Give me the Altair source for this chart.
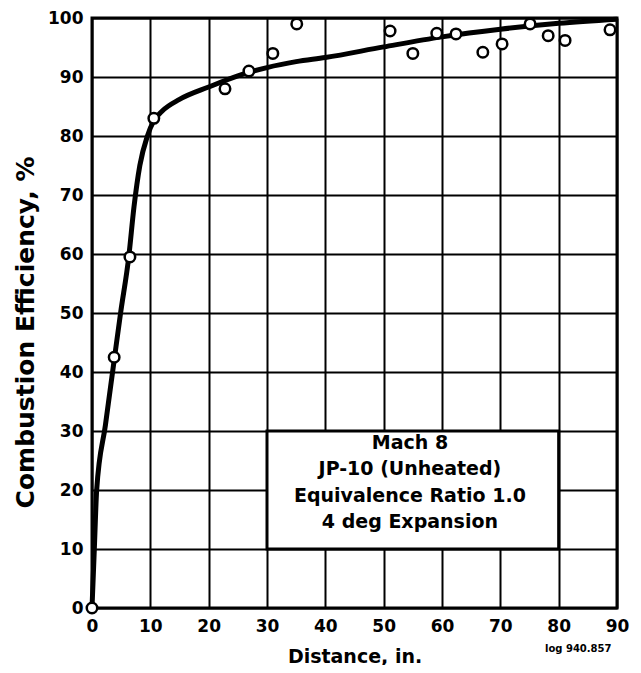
import altair as alt
import pandas as pd

# measured points
pt_x = [0, 3.8, 6.5, 10.6, 22.8, 26.9, 31.0, 35.1, 51.1, 55.0, 59.1, 62.4, 67.0, 70.3, 75.1, 78.2, 81.1, 88.8]
pt_y = [0, 42.5, 59.5, 83.0, 88.0, 91.0, 94.0, 99.0, 97.8, 94.0, 97.4, 97.3, 94.2, 95.6, 99.0, 97.0, 96.2, 98.0]

# fitted curve
ln_x = [0, 0.4, 0.8, 2.3, 3.8, 4.9, 6.3, 7.2, 8.2, 9.5, 10.6, 12, 15, 20, 25, 30, 35, 40, 50, 60, 70, 80, 90]
ln_y = [0, 10, 20, 31, 42, 50, 59.5, 68, 75, 80, 82.6, 84.2, 86.2, 88.3, 90.2, 91.6, 92.6, 93.3, 95.1, 96.8, 98.1, 99.1, 99.8]

note_lines = ["Mach 8", "JP-10 (Unheated)", "Equivalence Ratio 1.0", "4 deg Expansion"]

FONT = "DejaVu Sans"

pts = pd.DataFrame({"x": pt_x, "y": pt_y})
ln = pd.DataFrame({"x": ln_x, "y": ln_y})

xs = alt.Scale(domain=[0, 90], nice=False)
ys = alt.Scale(domain=[0, 100], nice=False)

xax = alt.Axis(values=list(range(0, 91, 10)), title="Distance, in.", grid=True, gridColor="black",
               gridWidth=2, gridOpacity=1, ticks=False, domain=False, labelFont=FONT,
               labelFontWeight="bold", labelFontSize=17, labelColor="black", labelPadding=10,
               titleFont=FONT, titleFontWeight="bold", titleFontSize=19, titleColor="black",
               titlePadding=13, labelFlush=False)
yax = alt.Axis(values=list(range(0, 101, 10)), title="Combustion Efficiency, %", grid=True,
               gridColor="black", gridWidth=2, gridOpacity=1, ticks=False, domain=False,
               labelFont=FONT, labelFontWeight="bold", labelFontSize=17, labelColor="black",
               labelPadding=9, titleFont=FONT, titleFontWeight="bold", titleFontSize=25,
               titleColor="black", titlePadding=9, titleY=314, labelFlush=False)

line = alt.Chart(ln).mark_line(color="black", strokeWidth=5, interpolate="monotone").encode(
    x=alt.X("x:Q", scale=xs, axis=xax), y=alt.Y("y:Q", scale=ys, axis=yax))

dots = alt.Chart(pts).mark_point(shape="circle", filled=True, fill="white", stroke="black",
                                 strokeWidth=2.5, size=110, opacity=1).encode(
    x=alt.X("x:Q", scale=xs), y=alt.Y("y:Q", scale=ys))

box = alt.Chart(pd.DataFrame({"a": [0]})).mark_rect(fill="white", stroke="black", strokeWidth=3).encode(
    x=alt.datum(30, scale=xs), x2=alt.datum(80), y=alt.datum(30, scale=ys), y2=alt.datum(10))

note = alt.Chart(pd.DataFrame({"a": [0]})).mark_text(
    text=note_lines, font=FONT, fontWeight="bold", fontSize=19, lineHeight=26.5,
    align="center", baseline="middle", color="black").encode(
    x=alt.datum(54.5, scale=xs), y=alt.datum(28, scale=ys))

tag = alt.Chart(pd.DataFrame({"a": [0]})).mark_text(
    text="log 940.857", font=FONT, fontWeight="bold", fontSize=10, align="left",
    baseline="middle", color="black").encode(
    x=alt.value(453), y=alt.value(631))

chart = alt.layer(line, box, note, dots, tag).properties(
    width=525, height=590, autosize=alt.AutoSizeParams(type="none"),
    padding={"left": 84, "top": 10, "right": 16, "bottom": 57},
    background="white"
).configure_view(stroke="black", strokeWidth=3)

chart.save("out.html", embed_options={"renderer": "svg", "actions": False})
